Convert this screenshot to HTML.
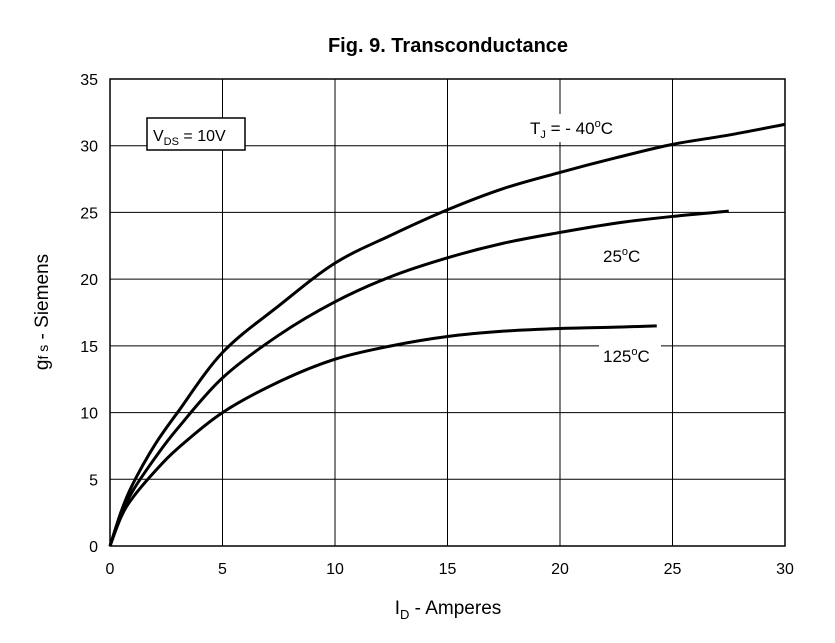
<!DOCTYPE html>
<html><head><meta charset="utf-8"><style>
body{margin:0;background:#fff;}
svg text{font-family:"Liberation Sans",Arial,sans-serif;}
</style></head><body>
<svg width="835" height="638" viewBox="0 0 835 638">
<text x="448" y="52" font-size="20" font-weight="bold" text-anchor="middle">Fig. 9. Transconductance</text>
<g id="grid"></g>
<g id="ticks"></g>
<g id="curves"></g>
<rect x="147" y="118" width="98" height="32" fill="#fff" stroke="#000" stroke-width="1.5"/>
<text x="153" y="141" font-size="16">V<tspan font-size="11" dy="4">DS</tspan><tspan dy="-4"> = 10V</tspan></text>
<rect x="526" y="114" width="104" height="28" fill="#fff"/>
<text x="530" y="134" font-size="17">T<tspan font-size="11" dy="4">J</tspan><tspan dy="-4"> = - 40</tspan><tspan font-size="11" dy="-7">o</tspan><tspan dy="7">C</tspan></text>
<rect x="599" y="242" width="52" height="26" fill="#fff"/>
<text x="603" y="262" font-size="17">25<tspan font-size="11" dy="-7">o</tspan><tspan dy="7">C</tspan></text>
<rect x="599" y="342" width="62" height="26" fill="#fff"/>
<text x="603" y="362" font-size="17">125<tspan font-size="11" dy="-7">o</tspan><tspan dy="7">C</tspan></text>
<text transform="translate(48,312) rotate(-90)" font-size="19" text-anchor="middle">g<tspan font-size="14">f s</tspan> - Siemens</text>
<text x="448" y="614" font-size="19" text-anchor="middle">I<tspan font-size="13" dy="5">D</tspan><tspan dy="-5"> - Amperes</tspan></text>
</svg>
<script>
const xTicks=[0,5,10,15,20,25,30];
const yTicks=[0,5,10,15,20,25,30,35];
const seriesNames=["minus40c","25c","125c"];
const idMinus40=[0,0.5,1,2,3,5,7.5,10,12.5,15,17.5,20,22.5,25,27.5,30];
const gfsMinus40=[0,2.6,4.6,7.6,10,14.5,18,21.2,23.3,25.2,26.8,28,29.1,30.1,30.8,31.6];
const id25=[0,0.5,1,2,3,5,7.5,10,12.5,15,17.5,20,22.5,25,27.5];
const gfs25=[0,2.4,4.1,6.6,8.8,12.6,15.8,18.3,20.2,21.6,22.7,23.5,24.2,24.7,25.1];
const id125=[0,0.5,1,2,3,5,7.5,10,12.5,15,17.5,20,22.5,24.3];
const gfs125=[0,2.2,3.6,5.6,7.3,10,12.3,14,15,15.7,16.1,16.3,16.4,16.5];
const X0=110,X1=785,Y0=546,Y1=79;
const sx=v=>X0+(v-0)/(30-0)*(X1-X0);
const sy=v=>Y0-(v-0)/(35-0)*(Y0-Y1);
const NS="http://www.w3.org/2000/svg";
const grid=document.getElementById('grid'),ticks=document.getElementById('ticks'),curves=document.getElementById('curves');
function mk(t,a){const e=document.createElementNS(NS,t);for(const k in a)e.setAttribute(k,a[k]);return e;}
xTicks.forEach(v=>{
 const l=mk('line',{x1:sx(v),x2:sx(v),y1:Y1,y2:Y0,stroke:'#000','stroke-width':1});
 
 
 grid.appendChild(l);
 const t=mk('text',{x:sx(v),y:Y0+28,'font-size':16,'text-anchor':'middle'});t.textContent=v;
 
 
 ticks.appendChild(t);
});
yTicks.forEach(v=>{
 const l=mk('line',{x1:X0,x2:X1,y1:sy(v),y2:sy(v),stroke:'#000','stroke-width':1});
 
 
 grid.appendChild(l);
 const t=mk('text',{x:X0-12,y:sy(v)+6,'font-size':16,'text-anchor':'end'});t.textContent=v;
 
 
 ticks.appendChild(t);
});
const frame=mk('rect',{x:X0,y:Y1,width:X1-X0,height:Y0-Y1,fill:'none',stroke:'#000','stroke-width':1.5});


grid.appendChild(frame);
function smooth(xs,ys){
 const p=xs.map((x,i)=>[sx(x),sy(ys[i])]);let d=`M${p[0][0]},${p[0][1]}`;
 for(let i=0;i<p.length-1;i++){const a=p[i-1]||p[i],b=p[i],c=p[i+1],e=p[i+2]||c;
  d+=` C${b[0]+(c[0]-a[0])/6},${b[1]+(c[1]-a[1])/6} ${c[0]-(e[0]-b[0])/6},${c[1]-(e[1]-b[1])/6} ${c[0]},${c[1]}`;}
 return d;}
[[idMinus40,gfsMinus40],[id25,gfs25],[id125,gfs125]].forEach((s,i)=>{
 const path=mk('path',{d:smooth(s[0],s[1]),fill:'none',stroke:'#000','stroke-width':3,'stroke-linejoin':'round'});
 
 
 curves.appendChild(path);
});
</script>
</body></html>
